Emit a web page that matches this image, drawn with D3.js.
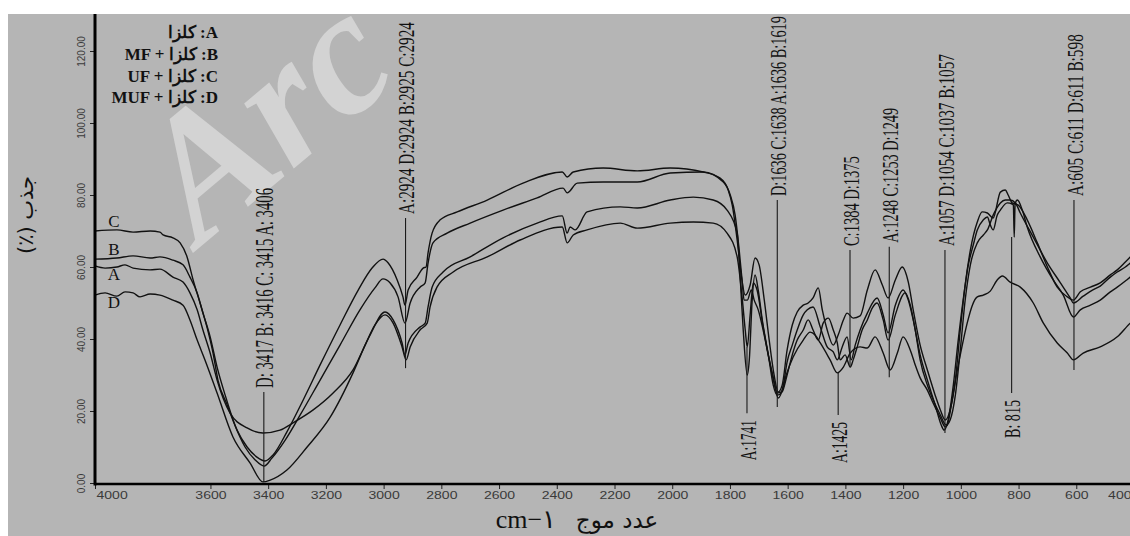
<!DOCTYPE html>
<html>
<head>
<meta charset="utf-8">
<script src="https://cdn.jsdelivr.net/npm/d3@7"></script>
<style>
body { margin: 0; background: #fff; }
svg { display: block; }
</style>
</head>
<body>
<svg id="chart"></svg>
<script>
// wavenumber (cm-1), absorbance (%)
var seriesC = [[4000,70.0],[3924,70.3],[3868,69.7],[3809,70.0],[3775,69.7],[3764,68.9],[3730,68.1],[3705,66.7],[3681,62.8],[3660,56.4],[3636,50.0],[3612,43.3],[3591,36.1],[3574,28.6],[3542,21.7],[3508,14.7],[3473,10.0],[3439,7.2],[3411,6.1],[3383,7.8],[3335,14.2],[3279,23.0],[3220,32.8],[3151,43.9],[3088,53.6],[3040,59.7],[3002,62.2],[2984,61.1],[2953,56.4],[2933,51.7],[2926,49.4],[2915,53.6],[2884,57.2],[2863,59.7],[2853,60.0],[2846,63.9],[2832,69.4],[2804,73.1],[2745,75.3],[2641,78.6],[2517,83.3],[2381,86.4],[2364,85.0],[2343,86.4],[2239,87.5],[2121,86.7],[2007,87.5],[1893,86.4],[1834,84.7],[1806,81.4],[1792,77.2],[1775,67.5],[1761,57.8],[1747,52.2],[1730,55.0],[1713,62.5],[1699,60.6],[1681,50.8],[1664,39.7],[1647,30.0],[1633,25.3],[1619,27.2],[1602,36.9],[1584,43.9],[1567,47.5],[1546,49.4],[1529,50.0],[1512,51.4],[1494,54.2],[1480,48.1],[1463,42.5],[1442,38.3],[1425,41.1],[1407,45.3],[1394,47.2],[1373,45.8],[1349,46.4],[1324,53.6],[1297,59.2],[1272,55.0],[1252,51.4],[1227,56.4],[1203,60.0],[1182,55.8],[1165,48.1],[1141,38.3],[1116,31.4],[1089,24.4],[1071,20.3],[1054,17.5],[1037,20.3],[1019,28.6],[1002,42.5],[985,55.0],[967,64.7],[943,72.5],[926,75.3],[908,75.0],[888,73.6],[863,80.8],[846,81.4],[836,80.0],[822,77.8],[801,77.2],[770,73.1],[735,66.7],[700,60.0],[666,54.4],[631,51.7],[610,50.8],[586,53.1],[551,54.4],[517,55.6],[482,57.8],[458,59.2],[430,61.4],[413,62.8],[400,63.9]];

var seriesB = [[4000,62.2],[3924,62.5],[3868,63.1],[3809,62.5],[3775,62.8],[3730,61.9],[3695,60.6],[3671,57.2],[3646,52.8],[3626,47.2],[3601,40.6],[3577,32.2],[3549,24.4],[3515,16.1],[3480,10.0],[3445,6.4],[3414,4.7],[3387,6.9],[3341,11.9],[3289,18.9],[3220,28.6],[3151,38.3],[3082,48.1],[3030,54.2],[3002,56.7],[2978,55.6],[2950,51.7],[2926,44.4],[2908,50.0],[2874,54.4],[2856,55.6],[2846,61.1],[2829,66.7],[2780,69.4],[2700,72.2],[2586,75.8],[2468,79.2],[2378,81.9],[2364,80.6],[2329,83.3],[2239,83.6],[2121,83.6],[2007,86.1],[1893,86.4],[1823,83.6],[1799,80.0],[1782,74.4],[1768,64.7],[1758,56.4],[1751,50.8],[1740,50.8],[1726,53.6],[1716,50.8],[1702,48.1],[1685,42.5],[1664,34.2],[1643,26.4],[1633,23.6],[1615,27.2],[1602,33.6],[1584,38.3],[1567,42.5],[1546,46.7],[1532,48.1],[1512,48.9],[1487,43.3],[1463,37.8],[1442,36.4],[1428,34.2],[1411,37.8],[1394,40.6],[1380,34.2],[1366,38.3],[1349,42.5],[1324,47.2],[1290,51.4],[1269,46.7],[1252,41.7],[1227,49.4],[1200,53.6],[1182,50.8],[1165,45.3],[1141,35.6],[1116,28.6],[1089,21.7],[1068,16.1],[1058,14.7],[1044,17.5],[1026,27.2],[1009,39.7],[992,50.8],[974,60.6],[957,66.1],[943,70.3],[922,73.1],[908,73.9],[898,71.7],[888,70.3],[874,74.4],[863,75.8],[839,77.8],[822,77.5],[818,77.2],[815,68.3],[812,77.5],[804,78.6],[787,75.8],[770,71.1],[725,62.8],[680,56.4],[645,52.2],[610,46.1],[586,48.1],[551,49.4],[517,50.8],[482,53.1],[458,54.4],[430,56.1],[413,57.2],[400,58.3]];

var seriesA = [[4000,60.3],[3965,59.7],[3924,60.0],[3896,60.6],[3868,59.7],[3809,59.2],[3775,59.4],[3730,57.2],[3695,55.8],[3671,52.8],[3646,48.1],[3626,42.5],[3601,36.1],[3577,28.6],[3532,19.4],[3473,15.3],[3418,13.9],[3359,14.7],[3314,16.7],[3244,20.3],[3175,25.0],[3106,31.4],[3047,41.1],[2995,47.5],[2967,45.3],[2936,38.9],[2926,35.6],[2915,38.9],[2874,43.3],[2856,44.4],[2846,48.9],[2832,54.4],[2794,58.6],[2700,62.8],[2586,68.1],[2468,72.2],[2381,74.2],[2364,69.4],[2354,71.1],[2336,70.3],[2295,75.3],[2180,76.7],[2121,76.4],[2007,78.6],[1927,79.4],[1858,78.6],[1810,75.8],[1775,69.4],[1764,56.4],[1754,42.5],[1740,30.0],[1733,34.2],[1723,50.8],[1713,57.8],[1702,53.6],[1688,45.3],[1667,35.6],[1650,27.2],[1636,24.4],[1619,25.3],[1602,30.0],[1584,35.6],[1567,39.7],[1546,42.5],[1529,45.3],[1512,42.5],[1494,39.7],[1477,44.4],[1459,45.8],[1442,42.5],[1428,38.9],[1418,34.2],[1401,35.6],[1383,32.2],[1373,34.2],[1359,37.8],[1342,42.5],[1324,45.3],[1307,48.6],[1290,50.0],[1269,45.3],[1252,39.7],[1227,46.7],[1193,52.8],[1175,49.4],[1158,42.5],[1141,34.2],[1116,27.2],[1096,23.1],[1071,18.9],[1051,16.1],[1037,17.5],[1019,24.4],[1002,36.9],[985,50.8],[967,60.6],[943,66.7],[922,68.9],[908,70.3],[888,74.4],[863,77.8],[846,78.6],[829,78.6],[811,77.8],[794,75.0],[749,68.3],[700,61.1],[655,55.6],[621,51.4],[610,50.0],[576,51.9],[544,53.6],[517,54.7],[482,57.2],[458,58.6],[430,60.0],[413,61.1],[400,61.9]];

var seriesD = [[4000,52.2],[3965,52.8],[3924,51.9],[3896,53.1],[3868,52.8],[3844,51.7],[3809,52.5],[3775,52.2],[3730,50.8],[3695,49.4],[3671,45.3],[3646,39.7],[3619,34.2],[3577,25.0],[3522,12.8],[3463,5.6],[3418,0.3],[3393,0.8],[3335,3.6],[3265,10.0],[3185,18.3],[3106,30.6],[3064,38.3],[3030,43.9],[2995,46.7],[2967,44.4],[2936,37.8],[2922,34.2],[2908,37.8],[2874,42.5],[2849,44.4],[2839,48.9],[2815,54.4],[2759,58.6],[2641,62.8],[2527,67.5],[2381,71.1],[2364,66.7],[2343,68.9],[2295,70.3],[2180,72.2],[2121,70.8],[2007,72.2],[1927,72.5],[1858,72.2],[1810,69.4],[1775,62.8],[1758,51.7],[1747,42.5],[1740,37.8],[1730,46.7],[1719,55.6],[1706,53.6],[1685,43.3],[1667,35.6],[1650,29.4],[1636,25.0],[1622,25.3],[1605,30.0],[1581,35.0],[1546,39.7],[1522,41.9],[1505,41.1],[1487,38.9],[1453,34.2],[1428,30.6],[1407,32.2],[1383,36.1],[1349,37.8],[1324,37.5],[1297,40.6],[1269,36.1],[1245,31.4],[1220,36.1],[1200,40.6],[1175,36.9],[1158,32.8],[1141,29.2],[1116,25.8],[1096,22.2],[1071,18.1],[1054,15.6],[1047,16.1],[1030,23.1],[1012,31.4],[995,38.3],[978,44.4],[960,49.4],[943,51.7],[922,52.2],[898,53.3],[874,56.4],[856,57.5],[829,55.8],[794,54.4],[749,50.0],[714,44.4],[666,38.9],[631,36.1],[610,34.2],[576,36.1],[517,37.8],[458,40.6],[413,44.4],[400,45.3]];

var seriesNames = ["C", "B", "A", "D"];
var seriesData = [seriesC, seriesB, seriesA, seriesD];

var xTicks = [4000, 3600, 3400, 3200, 3000, 2800, 2600, 2400, 2200, 2000, 1800, 1600, 1400, 1200, 1000, 800, 600, 400];
var yTicks = [0, 20, 40, 60, 80, 100, 120];

var legendLines = ["کلزا :A", "MF + کلزا :B", "UF + کلزا :C", "MUF + کلزا :D"];

// peak marks: label, wavenumber, line from/to (%), label above or below
var peakText = ["D: 3417 B: 3416 C: 3415 A: 3406", "A:2924 D:2924 B:2925 C:2924", "D:1636 C:1638 A:1636 B:1619",
    "C:1384 D:1375", "A:1248 C:1253 D:1249", "A:1057 D:1054 C:1037 B:1057", "A:605 C:611 D:611 B:598",
    "A:1741", "A:1425", "B: 815"];
var peakWn = [3415, 2924, 1636, 1384, 1248, 1055, 608, 1741, 1425, 824];
var peakTop = [25.3, 73.6, 78.6, 64.7, 65.6, 64.7, 78.6, 37.8, 30.6, 68.3];
var peakBottom = [0.3, 31.9, 21.1, 32.2, 29.4, 13.9, 31.4, 19.4, 18.9, 25.0];
var peakSide = ["up", "up", "up", "up", "up", "up", "up", "down", "down", "down"];

var w = 1130, h = 536;
var panelTop = 14;
// printed length of each peak label, px
var peakLen = [200, 192, 180, 90, 135, 192, 162, 40, 41, 38];

var svg = d3.select("#chart").attr("width", w).attr("height", h);

var x = d3.scaleLinear().domain([4000, 400]).range([95, 1134]);
var y = d3.scaleLinear().domain([0, 120]).range([483, 51]);

// grey panel
svg.append("rect")
    .attr("x", 8).attr("y", panelTop)
    .attr("width", w - 8).attr("height", h - panelTop)
    .attr("fill", "#b5b5b5");

// watermark
svg.append("text")
    .attr("transform", "translate(200,247) rotate(-40)")
    .attr("font-family", "Liberation Serif")
    .attr("font-weight", "bold")
    .attr("font-style", "italic")
    .attr("font-size", 178)
    .attr("fill", "#d3d3d3")
    .text("Arc");

// spectra
var line = d3.line()
    .x(function(d) { return x(d[0]); })
    .y(function(d) { return y(d[1]); })
    .curve(d3.curveMonotoneX);

svg.append("g").selectAll("path")
    .data(seriesData)
    .enter().append("path")
    .attr("d", line)
    .attr("fill", "none")
    .attr("stroke", "#111")
    .attr("stroke-width", 1.4);

// curve letters at the left edge
var letterOffset = [-4, -4, 14, 13];
svg.append("g").selectAll("text")
    .data(seriesNames)
    .enter().append("text")
    .attr("x", 114)
    .attr("y", function(d, i) { return y(seriesData[i][0][1]) + letterOffset[i]; })
    .attr("text-anchor", "middle")
    .attr("font-family", "Liberation Serif")
    .attr("font-size", 17)
    .attr("fill", "#111")
    .text(function(d) { return d; });

// x axis
var gx = svg.append("g")
    .attr("transform", "translate(0,484)")
    .call(d3.axisBottom(x).tickValues(xTicks).tickSize(5).tickSizeOuter(0).tickFormat(d3.format("d")));
gx.select(".domain").remove();
gx.selectAll(".tick line").attr("stroke", "#222");
gx.selectAll(".tick text")
    .attr("font-family", "Liberation Sans, Arial, sans-serif")
    .attr("font-size", 10)
    .attr("fill", "#3a3a3a")
    .attr("textLength", function(d) { return String(d).length * 7.8; })
    .attr("lengthAdjust", "spacingAndGlyphs")
    .attr("text-anchor", function(d, i) { return i === 0 ? "start" : (i === xTicks.length - 1 ? "end" : "middle"); })
    .attr("x", function(d, i) { return i === 0 ? 1 : (i === xTicks.length - 1 ? -3 : 0); });
svg.append("line")
    .attr("x1", 95).attr("x2", w).attr("y1", 484).attr("y2", 484)
    .attr("stroke", "#000").attr("stroke-width", 2.6);

// y axis
var gy = svg.append("g")
    .attr("transform", "translate(95,0)")
    .call(d3.axisLeft(y).tickValues(yTicks).tickSize(5).tickSizeOuter(0).tickFormat(d3.format(".2f")));
gy.select(".domain").remove();
gy.selectAll(".tick line").attr("stroke", "#222");
gy.selectAll(".tick text")
    .attr("x", null).attr("dy", null)
    .attr("transform", "translate(-10,0) rotate(-90)")
    .attr("text-anchor", "middle")
    .attr("font-family", "Liberation Sans, Arial, sans-serif")
    .attr("font-size", 10)
    .attr("fill", "#3a3a3a");
svg.append("line")
    .attr("x1", 95).attr("x2", 95).attr("y1", panelTop).attr("y2", 485.5)
    .attr("stroke", "#000").attr("stroke-width", 3);

// peak marks: narrow serif labels, squeezed along the line to the printed length
var peaks = svg.append("g");
peakText.forEach(function(t, i) {
    var px = x(peakWn[i]);
    var yTop = y(peakTop[i]), yBot = y(peakBottom[i]);
    peaks.append("line")
        .attr("x1", px).attr("x2", px).attr("y1", yTop).attr("y2", yBot)
        .attr("stroke", "#1a1a1a").attr("stroke-width", 1.1);
    var up = peakSide[i] === "up";
    var ty = up ? yTop - 4 : yBot + 7;
    var label = peaks.append("text")
        .attr("dy", "0.36em")
        .attr("text-anchor", up ? "start" : "end")
        .attr("font-family", "Liberation Serif")
        .attr("font-size", i === 0 ? 16 : 15)
        .attr("fill", "#111")
        .text(t);
    var natural = label.node().getComputedTextLength();
    label.attr("transform", "translate(" + px + "," + ty + ") rotate(-90) scale(" +
        (peakLen[i] / natural) + ",1.6)");
});

// legend
svg.append("g").selectAll("text")
    .data(legendLines)
    .enter().append("text")
    .attr("x", 218)
    .attr("y", function(d, i) { return 38 + i * 21.8; })
    .attr("text-anchor", "end")
    .attr("font-family", "Liberation Serif")
    .attr("font-weight", "bold")
    .attr("font-size", 17)
    .attr("fill", "#111")
    .text(function(d) { return d; });

// axis titles
svg.append("text")
    .attr("transform", "translate(33,215) rotate(-90)")
    .attr("text-anchor", "middle")
    .attr("font-family", "DejaVu Sans")
    .attr("font-size", 21)
    .attr("fill", "#111")
    .text("(٪) جذب");

svg.append("text")
    .attr("x", 526).attr("y", 528)
    .attr("text-anchor", "middle")
    .attr("font-family", "Liberation Serif")
    .attr("font-size", 26)
    .attr("fill", "#111")
    .text("cm−١");

svg.append("text")
    .attr("x", 617).attr("y", 528)
    .attr("text-anchor", "middle")
    .attr("font-family", "DejaVu Sans")
    .attr("font-size", 23)
    .attr("fill", "#111")
    .text("عدد موج");
</script>
</body>
</html>
